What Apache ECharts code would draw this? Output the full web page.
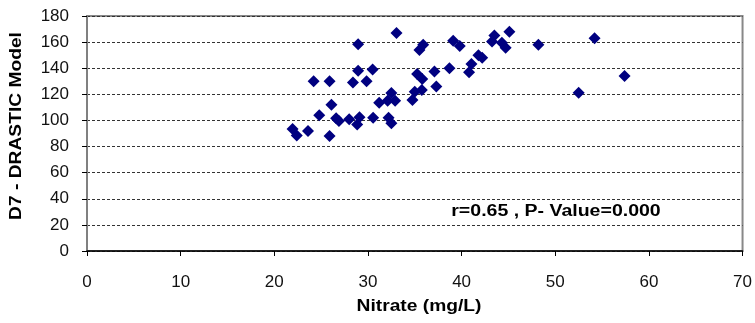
<!DOCTYPE html>
<html>
<head>
<meta charset="utf-8">
<script src="https://cdn.jsdelivr.net/npm/echarts@6/dist/echarts.min.js"></script>
<style>html,body{margin:0;padding:0;background:#fff}#c{width:755px;height:323px}</style>
</head>
<body>
<div id="c"></div>
<script>
var nitrate = [21.95,22.4,23.6,24.2,24.8,25.9,26.1,25.9,26.6,26.9,28.0,28.85,29.1,28.4,28.95,28.95,29.85,30.5,30.55,31.2,32.2,32.5,32.1,32.5,32.9,33.05,34.75,35.0,35.25,35.8,35.75,35.5,35.9,37.1,37.3,38.7,39.1,39.8,40.8,41.05,41.8,42.2,43.25,43.5,44.3,44.7,45.1,48.2,52.5,54.2,57.4];
var drastic = [93.5,88.5,92,130,104,130,112,88,101.7,99.6,101,96.8,102.4,129,138,158.4,130,139,102,113.6,102,97.8,115,121,115,167,115.7,122,135.6,131.8,123.4,154,157.9,137.4,126,140,161,157,137,143.3,150,148,160.4,165,159.6,155.6,168,158,121.3,163,134];
var xTitle = 'Nitrate (mg/L)';
var yTitle = 'D7 - DRASTIC Model';
var note = 'r=0.65 , P- Value=0.000';

var pts = nitrate.map(function(x,i){return [x, drastic[i]];});
var chart = echarts.init(document.getElementById('c'));
var F = '"Liberation Sans", Arial, sans-serif';
chart.setOption({
  animation:false,
  grid:{left:87, top:16, width:656, height:235, show:true, borderColor:'#888', borderWidth:2, backgroundColor:'#fff'},
  xAxis:{type:'value', min:0, max:70, interval:10,
    axisLine:{onZero:false, lineStyle:{color:'#000', width:1.5}},
    axisTick:{show:true, length:5, inside:false, lineStyle:{color:'#000'}},
    axisLabel:{fontFamily:F, fontSize:17, color:'#111', margin:23},
    splitLine:{show:false}},
  yAxis:{type:'value', min:0, max:180, interval:20,
    axisLine:{show:true, lineStyle:{color:'#808080', width:2}},
    axisTick:{show:true, length:5, lineStyle:{color:'#000'}},
    axisLabel:{fontFamily:F, fontSize:17, color:'#111', margin:18},
    splitLine:{show:true, lineStyle:{color:'#333', type:[3,2], width:1}}},
  series:[{type:'scatter', data:pts, symbol:'diamond', symbolSize:12,
    itemStyle:{color:'#000080', opacity:1}}],
  graphic:[
    {type:'text', x:419, y:307, scaleX:1.2, style:{text:xTitle, font:'bold 16px '+F, fill:'#000', align:'center', verticalAlign:'middle'}},
    {type:'text', x:16, y:126, rotation:Math.PI/2, scaleX:1.13, style:{text:yTitle, font:'bold 17px '+F, fill:'#000', align:'center', verticalAlign:'middle'}},
    {type:'text', x:556, y:212, scaleX:1.22, style:{text:note, font:'bold 16px '+F, fill:'#000', align:'center', verticalAlign:'middle'}}
  ]
});
</script>
</body>
</html>
